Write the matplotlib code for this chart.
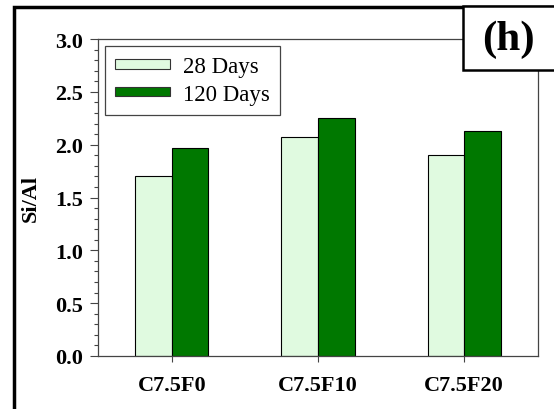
import numpy as np
import matplotlib
matplotlib.use("Agg")
import matplotlib.pyplot as plt
from matplotlib.patches import Rectangle, Patch
from matplotlib.ticker import MultipleLocator

mixes = ["C7.5F0", "C7.5F10", "C7.5F20"]
series = ["28 Days", "120 Days"]
si_al_28 = [1.70, 2.07, 1.90]
si_al_120 = [1.97, 2.25, 2.13]
colors = ["#e0fae0", "#007800"]

plt.rcParams["font.family"] = ["Liberation Serif", "DejaVu Serif"]

fig = plt.figure(figsize=(5.54, 4.10), dpi=100)
ax = fig.add_axes([98 / 554, 1 - 357 / 410, 440 / 554, 317 / 410])

x = np.arange(len(mixes))
w = 0.25
ax.bar(x - w / 2, si_al_28, w, color=colors[0], edgecolor="black", linewidth=0.8, zorder=2)
ax.bar(x + w / 2, si_al_120, w, color=colors[1], edgecolor="black", linewidth=0.8, zorder=2)

ax.set_xlim(-0.505, 2.505)
ax.set_ylim(0, 3.0)
ax.yaxis.set_minor_locator(MultipleLocator(0.1))
yt = np.arange(0, 3.01, 0.5)
ax.set_yticks(yt)
ax.set_yticklabels([f"{v:.1f}" for v in yt])
ax.set_xticks(x)
ax.set_xticklabels(mixes)
ax.tick_params(axis="both", direction="out", width=0.8, color="#444444")
ax.tick_params(axis="y", which="major", length=6, pad=5)
ax.tick_params(axis="y", which="minor", length=3, width=0.8, color="#444444")
ax.tick_params(axis="x", length=4, pad=10)
for lab in ax.get_xticklabels() + ax.get_yticklabels():
    lab.set_fontsize(16)
    lab.set_fontweight("bold")
for sp in ax.spines.values():
    sp.set_linewidth(0.9)
    sp.set_color("#444444")

ax.set_ylabel("Si/Al", fontsize=16, fontweight="bold")
ax.yaxis.set_label_coords(-0.13, 0.5)

handles = [Patch(facecolor=c, edgecolor="#333333", linewidth=0.8) for c in colors]
leg = ax.legend(handles, series, loc="upper left", bbox_to_anchor=(0.016, 0.978),
                borderaxespad=0, fontsize=16.5, handlelength=2.4, handleheight=0.28,
                handletextpad=0.55, labelspacing=0.28, borderpad=0.45,
                fancybox=False, framealpha=1)
leg.get_frame().set_edgecolor("#444444")
leg.get_frame().set_linewidth(0.9)

# outer frame of the panel
fig.patches.append(Rectangle((13.5 / 554, -0.1), 1.0, 1 - 7.5 / 410 + 0.1,
                             transform=fig.transFigure, fill=False,
                             edgecolor="black", linewidth=2.5, zorder=5))
# panel label box
fig.patches.append(Rectangle((463 / 554, 1 - 71 / 410), 0.3, 64 / 410,
                             transform=fig.transFigure, facecolor="white",
                             edgecolor="black", linewidth=1.8, zorder=6))
fig.text(508 / 554, 1 - 40 / 410, "(h)", fontsize=31, fontweight="bold",
         ha="center", va="center", zorder=7)

fig.savefig("out.png", dpi=100)
